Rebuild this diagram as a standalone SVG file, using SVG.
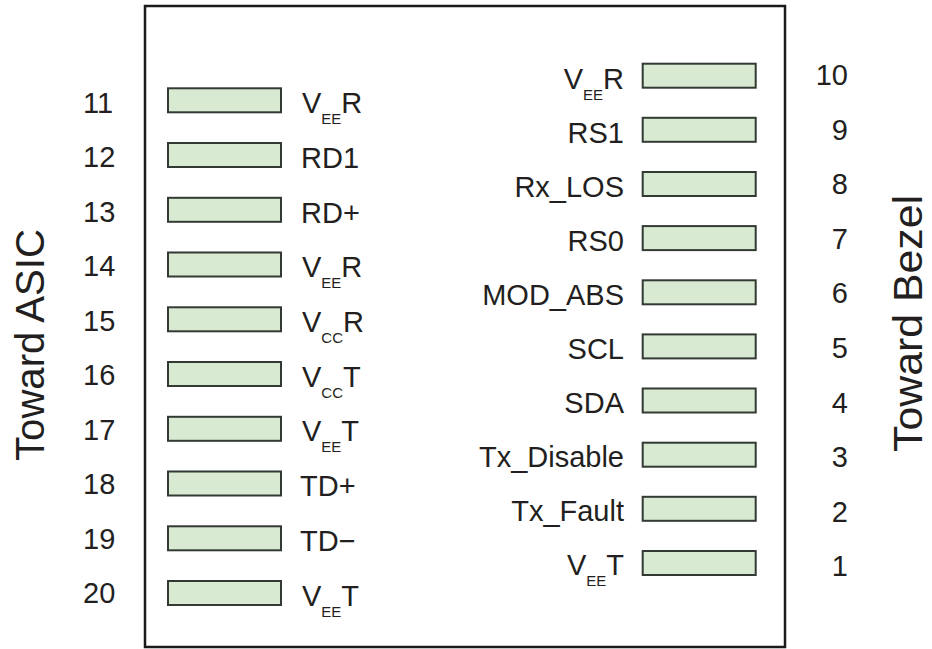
<svg xmlns="http://www.w3.org/2000/svg" width="932" height="649" viewBox="0 0 932 649">
<style>
text{font-family:"Liberation Sans",Arial,sans-serif;fill:#231f20}
.pin{fill:#d8ebd2;stroke:#333a33;stroke-width:2}
.lbl{font-size:29px}
.num{font-size:29px}
.side{font-size:40px}
.sub{font-size:15px}
.r{text-anchor:end}
</style>
<rect id="module" x="145" y="6" width="640" height="641" fill="#fff" stroke="#1a1a1a" stroke-width="2.5"/>
<text class="side" transform="translate(44,345) rotate(-90)" text-anchor="middle" textLength="232" lengthAdjust="spacingAndGlyphs">Toward ASIC</text>
<text class="side" transform="translate(922,323.5) rotate(-90)" text-anchor="middle" textLength="257" lengthAdjust="spacingAndGlyphs">Toward Bezel</text>
<g id="connectors"></g>
<g id="pin11"><rect class="pin" x="168" y="88.3" width="113" height="24"/><text class="num" x="83" y="112.7">11</text><text class="lbl" x="302" y="113">V<tspan class="sub" dy="11">EE</tspan><tspan dy="-11">R</tspan></text></g>
<g id="pin12"><rect class="pin" x="168" y="143" width="113" height="24"/><text class="num" x="83" y="167.2">12</text><text class="lbl" x="301" y="167.7">RD1</text></g>
<g id="pin13"><rect class="pin" x="168" y="197.8" width="113" height="24"/><text class="num" x="83" y="221.7">13</text><text class="lbl" x="301" y="222.5">RD+</text></g>
<g id="pin14"><rect class="pin" x="168" y="252.5" width="113" height="24"/><text class="num" x="83" y="276.2">14</text><text class="lbl" x="302" y="277.2">V<tspan class="sub" dy="11">EE</tspan><tspan dy="-11">R</tspan></text></g>
<g id="pin15"><rect class="pin" x="168" y="307.3" width="113" height="24"/><text class="num" x="83" y="330.7">15</text><text class="lbl" x="302" y="332">V<tspan class="sub" dy="11">CC</tspan><tspan dy="-11">R</tspan></text></g>
<g id="pin16"><rect class="pin" x="168" y="362" width="113" height="24"/><text class="num" x="83" y="385.2">16</text><text class="lbl" x="302" y="386.7">V<tspan class="sub" dy="11">CC</tspan><tspan dy="-11">T</tspan></text></g>
<g id="pin17"><rect class="pin" x="168" y="416.8" width="113" height="24"/><text class="num" x="83" y="439.7">17</text><text class="lbl" x="302" y="441.4">V<tspan class="sub" dy="11">EE</tspan><tspan dy="-11">T</tspan></text></g>
<g id="pin18"><rect class="pin" x="168" y="471.5" width="113" height="24"/><text class="num" x="83" y="494.2">18</text><text class="lbl" x="300" y="496.2">TD+</text></g>
<g id="pin19"><rect class="pin" x="168" y="526.3" width="113" height="24"/><text class="num" x="83" y="548.7">19</text><text class="lbl" x="300" y="550.9">TD−</text></g>
<g id="pin20"><rect class="pin" x="168" y="581" width="113" height="24"/><text class="num" x="83" y="603.2">20</text><text class="lbl" x="302" y="605.7">V<tspan class="sub" dy="11">EE</tspan><tspan dy="-11">T</tspan></text></g>
<g id="pin10"><rect class="pin" x="642.7" y="63.7" width="113" height="24"/><text class="num r" x="848" y="85">10</text><text class="lbl r" x="624" y="88.5">V<tspan class="sub" dy="11">EE</tspan><tspan dy="-11">R</tspan></text></g>
<g id="pin9"><rect class="pin" x="642.7" y="117.8" width="113" height="24"/><text class="num r" x="848" y="139.6">9</text><text class="lbl r" x="624" y="142.6">RS1</text></g>
<g id="pin8"><rect class="pin" x="642.7" y="172" width="113" height="24"/><text class="num r" x="848" y="194.2">8</text><text class="lbl r" x="624" y="196.6">Rx_LOS</text></g>
<g id="pin7"><rect class="pin" x="642.7" y="226.1" width="113" height="24"/><text class="num r" x="848" y="248.8">7</text><text class="lbl r" x="624" y="250.7">RS0</text></g>
<g id="pin6"><rect class="pin" x="642.7" y="280.3" width="113" height="24"/><text class="num r" x="848" y="303.4">6</text><text class="lbl r" x="624" y="304.7">MOD_ABS</text></g>
<g id="pin5"><rect class="pin" x="642.7" y="334.4" width="113" height="24"/><text class="num r" x="848" y="358">5</text><text class="lbl r" x="624" y="358.8">SCL</text></g>
<g id="pin4"><rect class="pin" x="642.7" y="388.5" width="113" height="24"/><text class="num r" x="848" y="412.6">4</text><text class="lbl r" x="624" y="412.9">SDA</text></g>
<g id="pin3"><rect class="pin" x="642.7" y="442.7" width="113" height="24"/><text class="num r" x="848" y="467.2">3</text><text class="lbl r" x="624" y="466.9">Tx_Disable</text></g>
<g id="pin2"><rect class="pin" x="642.7" y="496.8" width="113" height="24"/><text class="num r" x="848" y="521.8">2</text><text class="lbl r" x="624" y="521">Tx_Fault</text></g>
<g id="pin1"><rect class="pin" x="642.7" y="551" width="113" height="24"/><text class="num r" x="848" y="576.4">1</text><text class="lbl r" x="624" y="575">V<tspan class="sub" dy="11">EE</tspan><tspan dy="-11">T</tspan></text></g>
</svg>
